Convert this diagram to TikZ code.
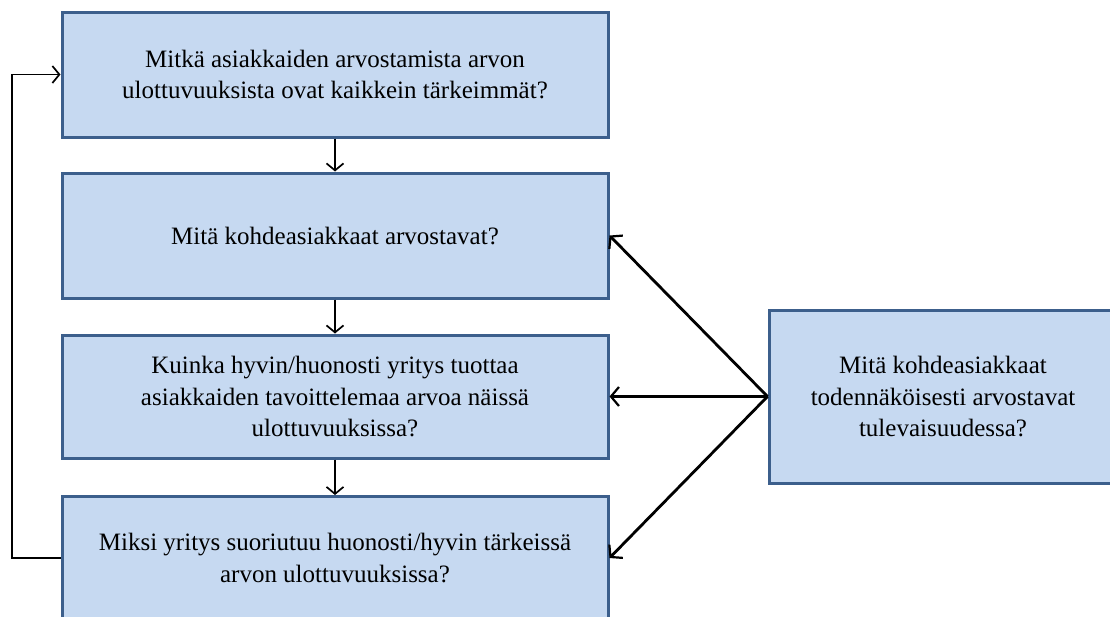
\documentclass[tikz,border=0pt]{standalone}
\usepackage{fontspec}
\setmainfont{Liberation Serif}
\usetikzlibrary{arrows.meta}
\definecolor{boxfill}{RGB}{198,217,241}
\definecolor{boxline}{RGB}{60,95,140}
\begin{document}
\begin{tikzpicture}[x=1pt,y=-1pt,
  qbox/.style={draw=boxline, fill=boxfill, line width=3pt, rectangle,
    inner sep=0pt, align=center,
    font=\fontsize{25}{31.5}\selectfont},
  flow/.style={draw=black, line width=1.7pt,
    -{Straight Barb[length=7pt,width=17pt,line width=1.7pt]}},
  link/.style={draw=black, line width=2.8pt,
    -{Straight Barb[length=8pt,width=19pt,line width=2.2pt]}}]
  \useasboundingbox (0,0) rectangle (1110,616);
  \fill[white] (0,0) rectangle (1110,616);
  \clip (0,0) rectangle (1110,616);

  % question boxes, top to bottom
  \node[qbox, minimum width=546pt, minimum height=125pt] (q1) at (335,74.5)
    {Mitkä asiakkaiden arvostamista arvon\\ulottuvuuksista ovat kaikkein tärkeimmät?};
  \node[qbox, minimum width=546pt, minimum height=125pt] (q2) at (335,235.5)
    {Mitä kohdeasiakkaat arvostavat?};
  \node[qbox, minimum width=546pt, minimum height=123pt] (q3) at (335,396.5)
    {Kuinka hyvin/huonosti yritys tuottaa\\asiakkaiden tavoittelemaa arvoa näissä\\ulottuvuuksissa?};
  \node[qbox, minimum width=546pt, minimum height=123pt] (q4) at (335,558)
    {Miksi yritys suoriutuu huonosti/hyvin tärkeissä\\arvon ulottuvuuksissa?};

  % future box at the right
  \node[qbox, minimum width=348pt, minimum height=173pt] (fut) at (943,396.5)
    {Mitä kohdeasiakkaat\\todennäköisesti arvostavat\\tulevaisuudessa?};

  % main flow
  \draw[flow] (q1) -- (q2);
  \draw[flow] (q2) -- (q3);
  \draw[flow] (q3) -- (q4);

  % feedback loop on the left
  \coordinate (lb) at (12,558);
  \coordinate (lt) at (12,74.5);
  \draw[flow] (q4.west) -- (lb) -- (lt) -- (q1.west);

  % links from the future box
  \draw[link] (fut.west) -- (q2.east);
  \draw[link] (fut.west) -- (q3.east);
  \draw[link] (fut.west) -- (q4.east);
\end{tikzpicture}
\end{document}
